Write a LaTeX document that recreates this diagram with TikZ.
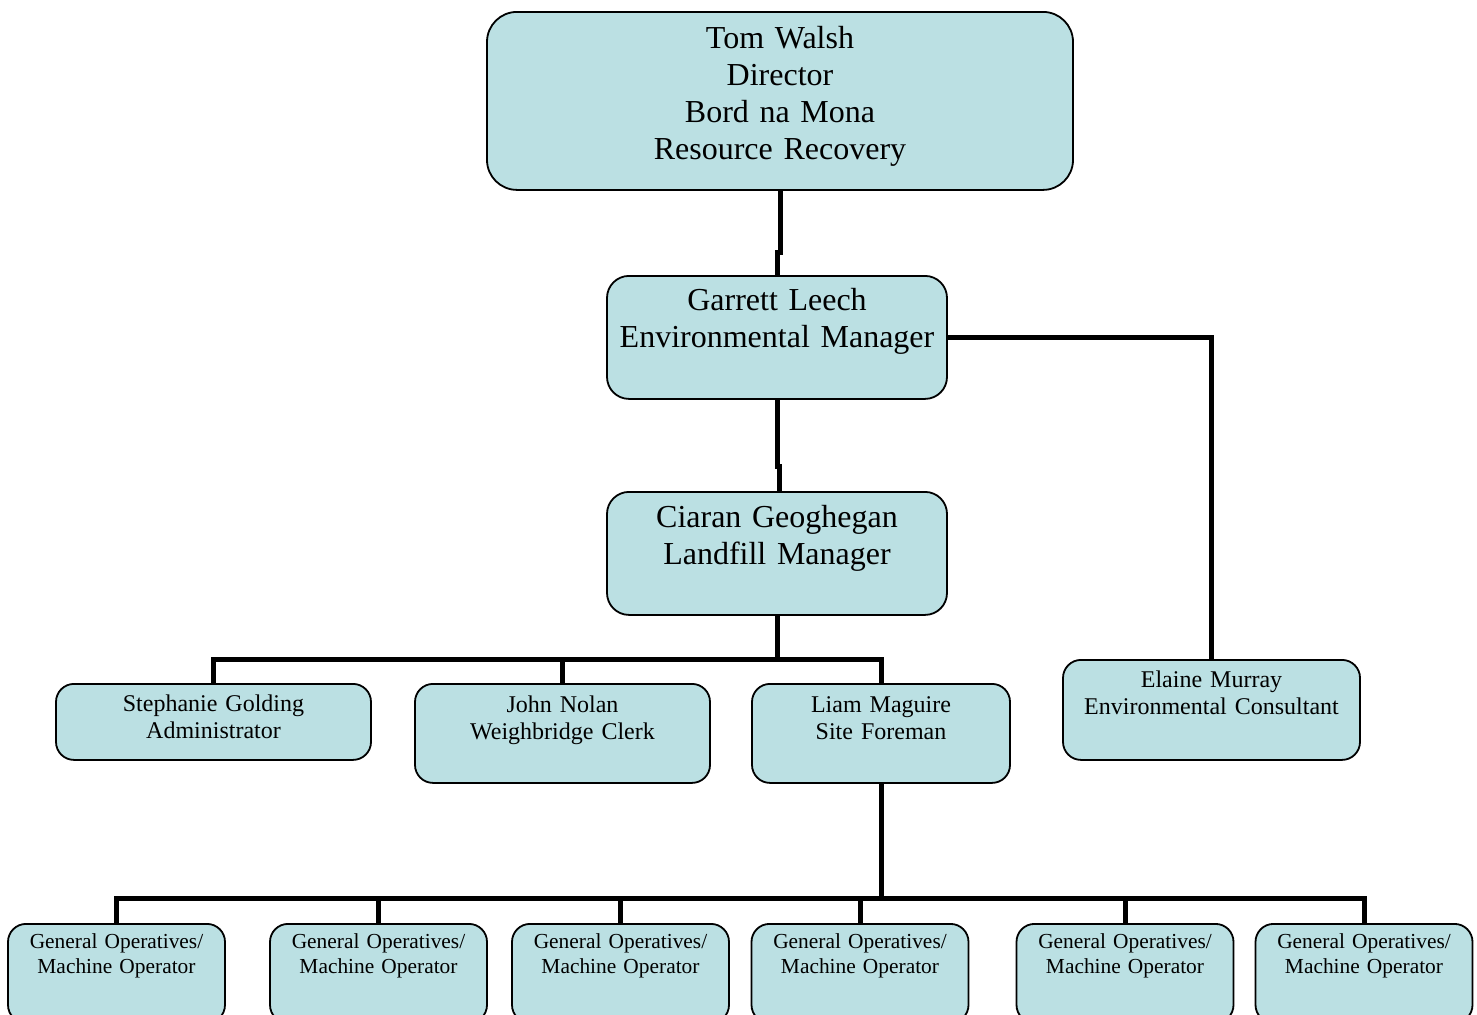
\documentclass[tikz,border=0pt]{standalone}
\usepackage{fontspec}
\setmainfont{Liberation Serif}
\usepackage{tikz}
\definecolor{boxfill}{RGB}{187,224,227}

\begin{document}
\begin{tikzpicture}[x=0.5pt, y=-0.5pt,
  unit/.style={draw, fill=boxfill, line width=0.9pt, inner sep=0pt, anchor=north, align=center},
  big/.style={unit, rounded corners=15pt, font=\fontsize{16}{18.5}\selectfont},
  mid/.style={unit, rounded corners=9pt, font=\fontsize{12}{13.5}\selectfont},
  small/.style={unit, rounded corners=9pt, font=\fontsize{10.7}{12.3}\selectfont,
    text width=108.5pt, text height=12.5pt, text depth=37pt},
  link/.style={line width=2.5pt}]
\useasboundingbox (0,0) rectangle (1477,1014);

\node[big, text width=293pt, text height=18.5pt, text depth=70.5pt] (tw) at (780,11) {Tom Walsh\\Director\\Bord na Mona\\Resource Recovery};
\node[big, rounded corners=11pt, text width=170pt, text height=17.5pt, text depth=44pt] (gl) at (777,275) {Garrett Leech\\Environmental Manager};
\node[big, rounded corners=11pt, text width=170pt, text height=18pt, text depth=43.5pt] (cg) at (777,491) {Ciaran Geoghegan\\Landfill Manager};
\node[mid, text width=157.5pt, text height=14pt, text depth=24pt] (sg) at (213.5,683) {Stephanie Golding\\Administrator};
\node[mid, text width=147.5pt, text height=14.5pt, text depth=35pt] (jn) at (562.5,683) {John Nolan\\Weighbridge Clerk};
\node[mid, text width=129pt, text height=14.5pt, text depth=35pt] (lm) at (881,683) {Liam Maguire\\Site Foreman};
\node[mid, text width=148.5pt, text height=14pt, text depth=36pt] (em) at (1211.5,659) {Elaine Murray\\Environmental Consultant};
\foreach \n/\x in {1/116.5, 2/378.5, 3/620.5, 4/860, 5/1125, 6/1364}
  \node[small] (op\n) at (\x,923) {General Operatives/\\Machine Operator};

\draw[link] (tw.south) -- ++(0,62) -| (gl.north);
\draw[link] (gl.south) -- ++(0,67) -| ([xshift=1pt]cg.north);
\draw[link] (gl.east) -| (em.north);
\draw[link] (cg.south) -- ++(0,45);
\draw[link] (sg.north) -- ++(0,-24) -| (lm.north);
\draw[link] (jn.north) -- ++(0,-24);
\draw[link] (lm.south) -- ++(0,116);
\draw[link] (op1.north) -- ++(0,-25) -| (op6.north);
\foreach \n in {2,...,5} \draw[link] (op\n.north) -- ++(0,-25);
\end{tikzpicture}
\end{document}
